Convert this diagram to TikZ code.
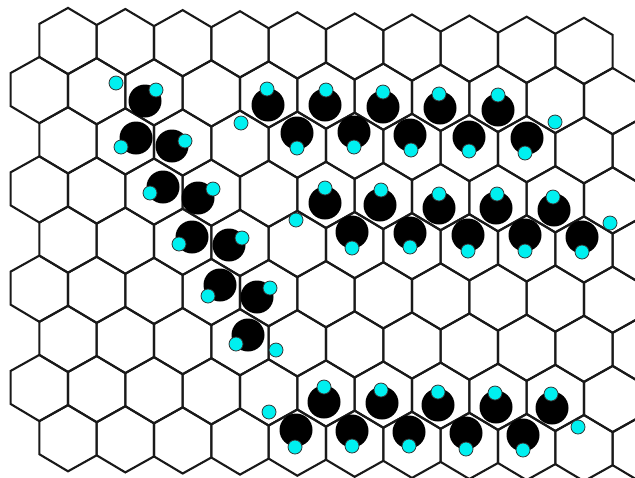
\documentclass[tikz,border=0pt]{standalone}
\usepackage{xcolor}
\usepackage{tikz}
\usetikzlibrary{calc}

\definecolor{ioncyan}{RGB}{0,240,240}

% black atom / cyan atom pairs: bx/by/cx/cy (pixel units, y down)
\newcommand{\molecules}{%
  145/101/156/90, 136/138/121/147, 172/146/185/141, 163/187/150/193,
  198/198/213/189, 192/237/179/244, 229/245/242/238, 220/285/208/296,
  257/297/270/288, 248/335/236/344,
  268/105/267/89, 325/105/326/90, 383/107/383/92, 440/108/439/94, 498/110/498/95,
  297/133/297/148, 354/132/354/147, 410/135/411/150, 469/137/469/151, 527/138/525/153,
  325/203/325/188, 380/205/381/190, 439/208/439/194, 496/208/497/194, 554/210/553/197,
  352/232/352/248, 410/233/410/247, 468/235/468/251, 525/235/525/251, 582/237/582/252,
  324/402/324/387, 382/403/381/390, 438/405/438/392, 496/407/495/393, 552/408/551/394,
  296/430/295/447, 352/431/352/446, 409/432/409/446, 466/433/466/449, 523/435/523/450}

\begin{document}
\begin{tikzpicture}[x=0.02cm, y=-0.02cm,
    cell/.style={draw=black!90, line width=1.2pt, line join=miter},
    bigatom/.style={fill=black},
    smallatom/.style={fill=ioncyan, draw=black!80, line width=0.45pt}]
  \useasboundingbox (0,0) rectangle (635,477);
  \clip (0,0) rectangle (635,477);

  % Hexagonal lattice (slightly sheared)
  \begin{scope}[cm={1,-0.0192,0,1,(0,0)}]
    \foreach \r in {0,...,8} {
      \pgfmathtruncatemacro{\kmax}{\r==0 ? 9 : 10}
      \foreach \k in {0,...,\kmax} {
        \pgfmathsetmacro{\hx}{68 + 57.33*\k - 28.67*mod(\r,2)}
        \pgfmathsetmacro{\hy}{39.7 + 49.65*\r}
        \draw[cell] (\hx,\hy) +(30:33.1) -- +(90:33.1) -- +(150:33.1)
          -- +(210:33.1) -- +(270:33.1) -- +(330:33.1) -- cycle;
      }
    }
  \end{scope}

  % Molecules
  \foreach \bx/\by/\cx/\cy in \molecules {
    \fill[bigatom] (\bx,\by) circle (16.5);
  }
  \foreach \bx/\by/\cx/\cy in \molecules {
    \draw[smallatom] (\cx,\cy) circle (7);
  }

  % Free cyan atoms
  \foreach \cx/\cy in {116/83, 241/123, 555/122, 296/220, 610/223, 276/350, 269/412, 578/427} {
    \draw[smallatom] (\cx,\cy) circle (7);
  }
\end{tikzpicture}
\end{document}
